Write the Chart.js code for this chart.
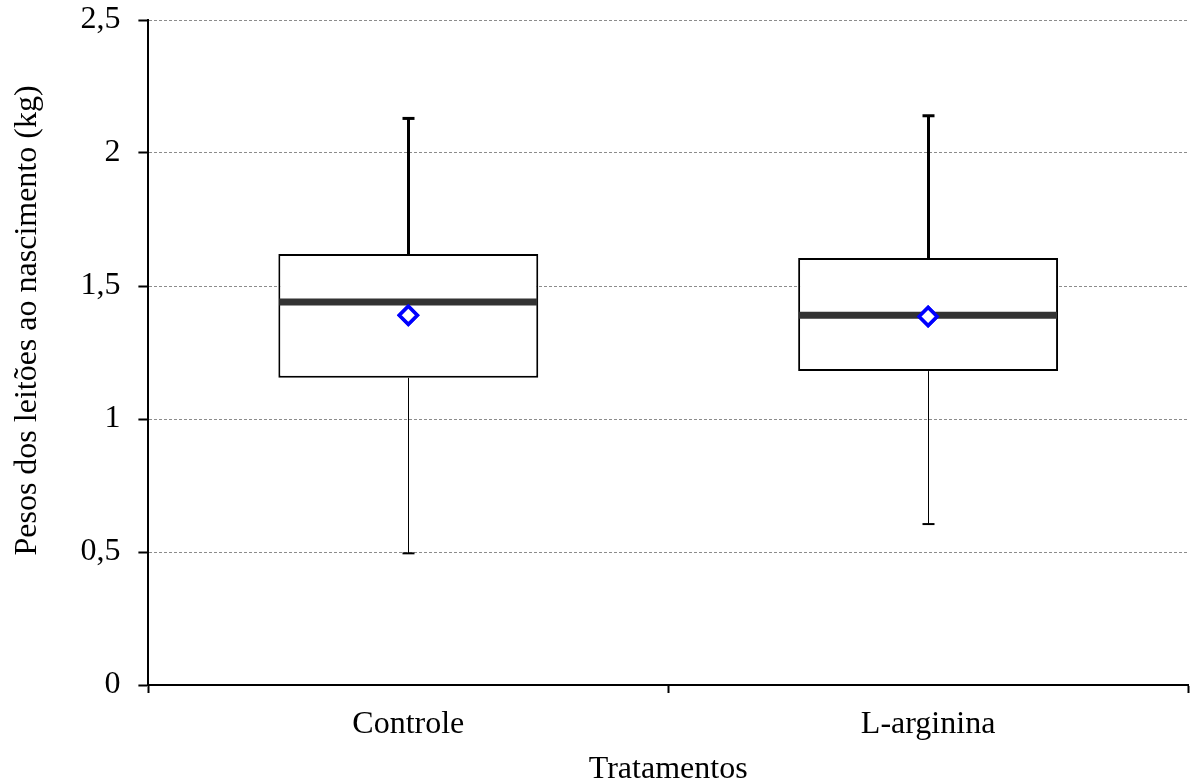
<!DOCTYPE html>
<html>
<head>
<meta charset="utf-8">
<script src="https://cdn.jsdelivr.net/npm/chart.js@4/dist/chart.umd.min.js"></script>
<style>
  html, body { margin: 0; padding: 0; background: #fff; }
  #wrap { width: 1193px; height: 782px; }
</style>
</head>
<body>
<div id="wrap"><canvas id="boxChart"></canvas></div>
<script>
const categories = ['Controle', 'L-arginina'];
const minValues = [0.495, 0.605];
const q1Values = [1.155, 1.18];
const medianValues = [1.44, 1.39];
const q3Values = [1.62, 1.605];
const maxValues = [2.13, 2.14];
const meanValues = [1.39, 1.385];

const serif = 'Liberation Serif, Times New Roman, serif';

// whiskers, caps and median drawn with the chart's own scales
const boxExtras = {
	id: 'boxExtras',
	afterDatasetsDraw(chart) {
		const ctx = chart.ctx;
		const x = chart.scales.x;
		const y = chart.scales.y;
		const meta = chart.getDatasetMeta(0);
		ctx.save();
		for (let i = 0; i < categories.length; i++) {
			const cx = Math.round(x.getPixelForValue(i)) + 0.5;
			const bar = meta.data[i];
			const half = bar.width / 2;

			// upper whisker
			ctx.strokeStyle = '#000';
			ctx.lineWidth = 3;
			ctx.beginPath();
			ctx.moveTo(cx, y.getPixelForValue(q3Values[i]));
			ctx.lineTo(cx, y.getPixelForValue(maxValues[i]));
			ctx.stroke();
			ctx.beginPath();
			ctx.moveTo(cx - 6, y.getPixelForValue(maxValues[i]));
			ctx.lineTo(cx + 6, y.getPixelForValue(maxValues[i]));
			ctx.stroke();

			// lower whisker
			ctx.lineWidth = 1;
			ctx.beginPath();
			ctx.moveTo(cx, y.getPixelForValue(q1Values[i]));
			ctx.lineTo(cx, y.getPixelForValue(minValues[i]));
			ctx.stroke();
			ctx.lineWidth = 2;
			ctx.beginPath();
			ctx.moveTo(cx - 6, y.getPixelForValue(minValues[i]));
			ctx.lineTo(cx + 6, y.getPixelForValue(minValues[i]));
			ctx.stroke();

			// median
			ctx.strokeStyle = '#333333';
			ctx.lineWidth = 7;
			ctx.beginPath();
			ctx.moveTo(bar.x - half + 1, y.getPixelForValue(medianValues[i]));
			ctx.lineTo(bar.x + half - 1, y.getPixelForValue(medianValues[i]));
			ctx.stroke();
		}
		ctx.restore();

		// mean markers on top
		const meanMeta = chart.getDatasetMeta(1);
		meanMeta.data.forEach(p => p.draw(ctx));
	}
};

const data = {
	labels: categories,
	datasets: [{
		type: 'bar',
		label: 'caixa',
		data: categories.map((c, i) => [q1Values[i], q3Values[i]]),
		backgroundColor: '#ffffff',
		borderColor: '#000000',
		borderWidth: 2,
		borderSkipped: false,
		categoryPercentage: 1,
		barPercentage: 0.5,
		order: 2
	}, {
		type: 'line',
		label: 'média',
		data: meanValues,
		showLine: false,
		pointStyle: 'rectRot',
		pointRadius: 9,
		pointBorderWidth: 3.5,
		pointBorderColor: '#0000ff',
		pointBackgroundColor: '#ffffff',
		order: 1
	}]
};

const config = {
	data: data,
	options: {
		responsive: true,
		maintainAspectRatio: false,
		animation: false,
		layout: {
			autoPadding: false,
			padding: {top: 0, right: 5, left: 8, bottom: 0}
		},
		plugins: {
			legend: {display: false},
			tooltip: {enabled: false}
		},
		scales: {
			x: {
				type: 'category',
				offset: true,
				afterFit: s => { s.paddingLeft = 0; s.paddingRight = 0; },
				grid: {
					offset: true,
					drawOnChartArea: false,
					drawTicks: true,
					tickLength: 8,
					tickColor: '#000',
					tickWidth: 2
				},
				border: {display: true, color: '#000', width: 2},
				ticks: {
					color: '#000',
					padding: 12,
					font: {family: serif, size: 32}
				},
				title: {
					display: true,
					text: 'Tratamentos',
					color: '#000',
					font: {family: serif, size: 32, lineHeight: 0.8},
					padding: {top: 1, bottom: 0}
				}
			},
			y: {
				min: 0,
				max: 2.5,
				afterFit: s => { s.paddingTop = 20; s.paddingBottom = 0; },
				ticks: {
					stepSize: 0.5,
					color: '#000',
					padding: 18,
					font: {family: serif, size: 32},
					callback: v => String(v).replace('.', ',')
				},
				grid: {
					color: ctx => ctx.tick && ctx.tick.value === 0 ? 'rgba(0,0,0,0)' : '#8c8c8c',
					lineWidth: 1,
					tickLength: 10,
					tickColor: '#000',
					tickWidth: 2,
					tickBorderDash: []
				},
				border: {display: true, color: '#000', width: 2, dash: [3, 2]},
				title: {
					display: true,
					// leading spaces push the rotated title a little upwards, as in the original
					text: '        Pesos dos leitões ao nascimento (kg)',
					color: '#000',
					font: {family: serif, size: 32},
					padding: {top: 0, bottom: 16}
				}
			}
		}
	},
	plugins: [boxExtras]
};

const ctx = document.getElementById('boxChart').getContext('2d');
const myChart = new Chart(ctx, config);
</script>
</body>
</html>
